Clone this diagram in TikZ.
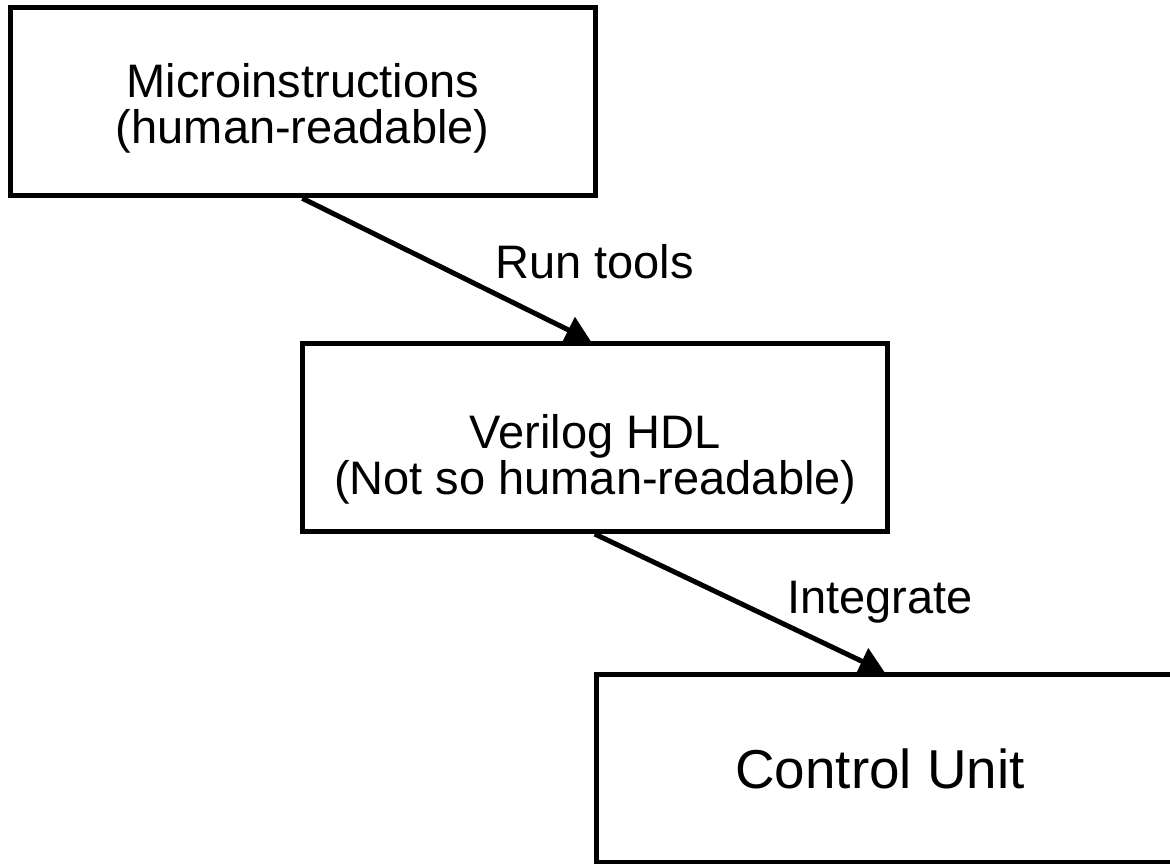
\documentclass[tikz,border=0pt]{standalone}
\usepackage{fontspec}
\setmainfont{Liberation Sans}
\usetikzlibrary{arrows.meta}
\begin{document}
\begin{tikzpicture}[x=0.5pt,y=-0.5pt,
  box/.style={draw, line width=2.5pt, fill=white, minimum width=292.5pt, minimum height=94pt},
  btext/.style={font=\fontsize{23.5}{23}\selectfont, inner sep=0pt, align=center},
  lbl/.style={font=\fontsize{23.5}{23}\selectfont, inner sep=0pt, anchor=base},
  conn/.style={line width=2.5pt, -{Triangle[length=12.5pt,width=14pt]}}]
\path[use as bounding box, clip] (0,0) rectangle (1170,863);
\node[box] (b1) at (302.75,101.75) {};
\node[box] (b2) at (595.25,437.5) {};
\node[box] (b3) at (888.5,768.5) {};
\node[btext] (t1) at ([yshift=-3.5pt]b1.center) {Microinstructions\\(human-readable)};
\node[btext] (t2) at ([yshift=-11pt]b2.center) {Verilog HDL\\(Not so human-readable)};
\node[btext, font=\fontsize{27.4}{27}\selectfont] (t3) at ([xshift=-4.25pt]b3.center) {Control Unit};
\coordinate (s1) at ([xshift=147.25pt]b1.south west);
\coordinate (e1) at ([xshift=145.25pt]b2.north west);
\coordinate (s2) at ([xshift=147.25pt]b2.south west);
\coordinate (e2) at ([xshift=145.5pt]b3.north west);
\draw[conn] (s1) -- (e1);
\draw[conn] (s2) -- (e2);
\node[lbl] (l1) at (594.5,278) {Run tools};
\node[lbl] (l2) at (880,613) {Integrate};
\end{tikzpicture}
\end{document}
